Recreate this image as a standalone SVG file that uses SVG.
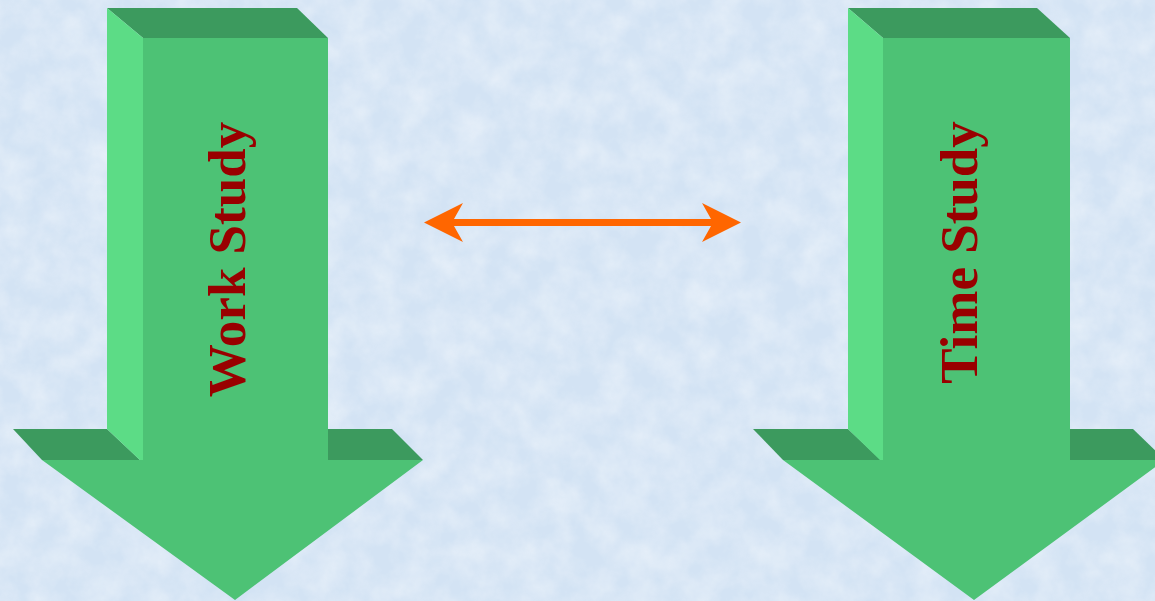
<svg xmlns="http://www.w3.org/2000/svg" width="1155" height="601" viewBox="0 0 1155 601">
<style>
.top{fill:#3c9a5e}
.side{fill:#5cdc86}
.front{fill:#4dc275}
.lbl{font-family:"Liberation Serif","Times New Roman",serif;font-weight:bold;font-size:53px;fill:#990000}
</style>
<defs>
<filter id="tex" x="0" y="0" width="100%" height="100%">
<feTurbulence type="fractalNoise" baseFrequency="0.035" numOctaves="4" seed="3" result="n"/>
<feColorMatrix in="n" type="matrix" values="0 0 0 0 1  0 0 0 0 1  0 0 0 0 1  0 0 0 -1.4 1.0"/>
</filter>
<marker id="ah" viewBox="0 0 40 40" refX="14" refY="20" markerWidth="40" markerHeight="40" markerUnits="userSpaceOnUse" orient="auto-start-reverse">
<path d="M0,0.5 L39,20 L0,39.5 L11,20 Z" fill="#ff6600"/>
</marker>
</defs>
<rect width="1155" height="601" fill="#d3e3f4"/>
<rect width="1155" height="601" filter="url(#tex)" opacity="0.45"/>
<g id="node-work-study">
<polygon class="top" points="107,8 297,8 328,38 143,38"/>
<polygon class="top" points="13,429 107,429 140,460 42,460"/>
<polygon class="top" points="328,429 392,429 423,460 328,460"/>
<polygon class="side" points="107,8 143,38 143,463 107,429"/>
<polygon class="front" points="143,38 328,38 328,460 423,460 235,600 42,460 143,460"/>
<text class="lbl" text-anchor="middle" transform="translate(245,259.5) rotate(-90)">Work Study</text>
</g>
<g id="node-time-study">
<polygon class="top" points="848,8 1037,8 1070,38 883,38"/>
<polygon class="top" points="753,429 848,429 881,460 783,460"/>
<polygon class="top" points="1070,429 1133,429 1165,460 1070,460"/>
<polygon class="side" points="848,8 883,38 883,463 848,429"/>
<polygon class="front" points="883,38 1070,38 1070,460 1165,460 974,600 783,460 883,460"/>
<text class="lbl" text-anchor="middle" transform="translate(977,252.5) rotate(-90)">Time Study</text>
</g>
<g id="connectors">
<line x1="449" y1="222.5" x2="716" y2="222.5" stroke="#ff6600" stroke-width="7" marker-start="url(#ah)" marker-end="url(#ah)"/>
</g>
</svg>
